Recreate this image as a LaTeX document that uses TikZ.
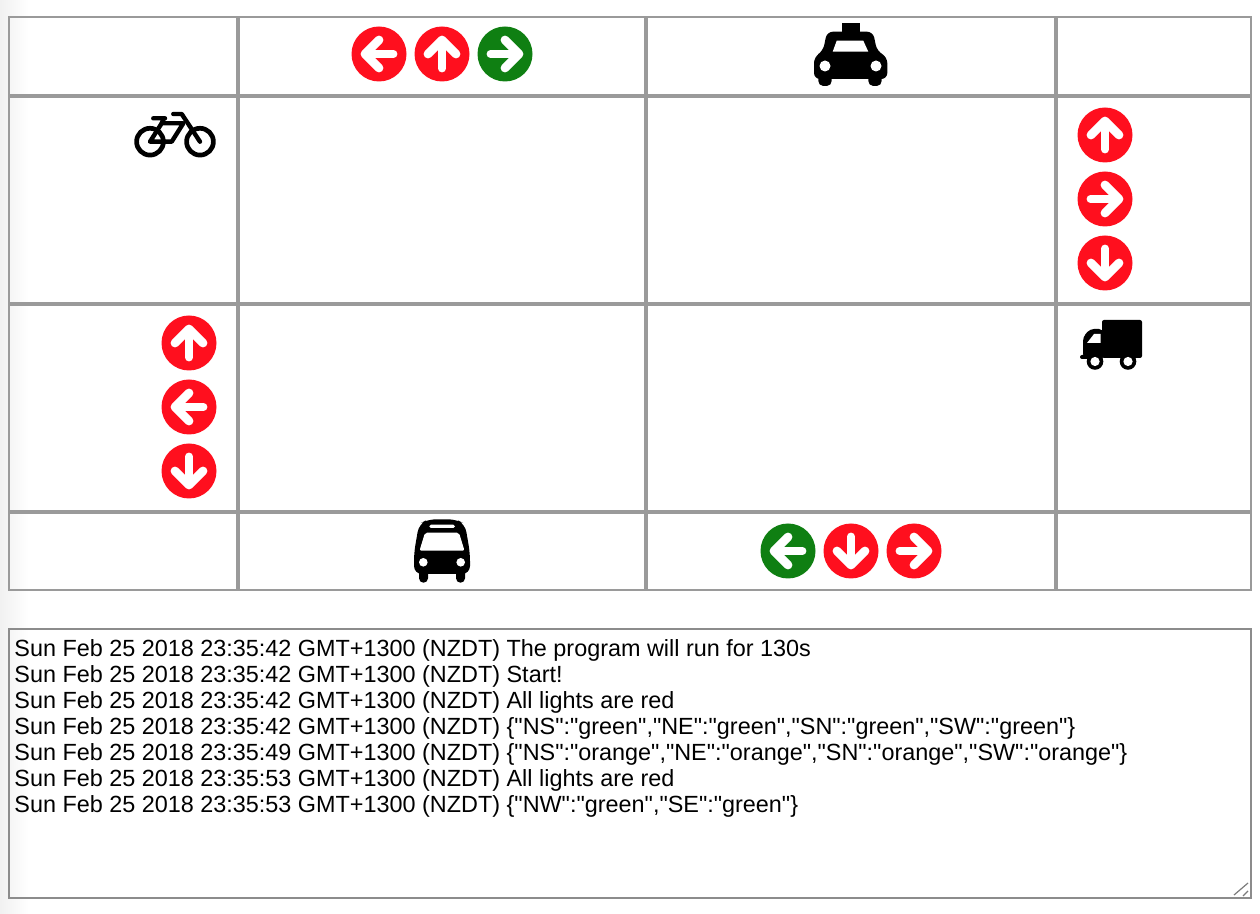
\documentclass[tikz,border=0pt]{standalone}
\usepackage{fontspec}
\newfontfamily\logfont{Liberation Sans}
\definecolor{lightred}{HTML}{FF0F1E}
\definecolor{lightgreen}{HTML}{0F7F12}
\definecolor{gridgrey}{HTML}{9A9A9A}
\definecolor{boxgrey}{HTML}{8C8C8C}
\definecolor{pagegrey}{HTML}{F1F1F1}
\tikzset{
  x=0.5pt,y=-0.5pt,
  gridin/.style={draw=gridgrey,line width=1.75pt},
  gridout/.style={draw=gridgrey,line width=1.3pt},
  logbox/.style={draw=boxgrey,line width=1pt},
  logline/.style={anchor=base west,inner sep=0pt,font=\logfont\fontsize{11.7}{13}\selectfont},
  roundline/.style={line cap=round,line join=round},
  arrowicon/.pic={
    \fill[pic actions] (0,0) circle[radius=27.5];
    \draw[white,line width=3.9pt,roundline] (0,14.5)--(0,-12);
    \draw[white,line width=4.4pt,roundline] (-14,0)--(0,-14)--(14,0);
  },
  taxiicon/.pic={
    \fill (-9.3,-30.7) rectangle (9,-20);
    \fill[rounded corners=3pt] (-37,25) -- (-37,3) -- (-28,-3) -- (-24,-22.3) -- (22,-22.3) -- (26,-3) -- (36.3,3) -- (36.3,25) -- cycle;
    \fill[rounded corners=2.5pt] (-32.7,15) rectangle (-19.3,32);
    \fill[rounded corners=2.5pt] (17.3,15) rectangle (30.7,32);
    \fill[white] (-14.3,-13.3) -- (12.3,-13.3) -- (17.3,-2.3) -- (-18.3,-2.3) -- cycle;
    \fill[white] (-26,12) circle[radius=5.5] (25,12) circle[radius=5.5];
  },
  bikeicon/.pic={
    \draw[line width=2.35pt,roundline] (-25,0.7) circle[radius=13.4] (25,0.7) circle[radius=13.4];
    \draw[line width=2.2pt,roundline] (-25,0.7) -- (-13.3,-17.7) -- (8.3,-17.7) -- (-3.3,0.7) -- cycle;
    \draw[line width=2.2pt,roundline] (-21.7,-22.7) -- (-10,-22.7) (-11,-22.7) -- (-13.3,-17.7);
    \draw[line width=2.2pt,roundline] (-1.7,-27) -- (6.7,-27) -- (25,0.7);
  },
  truckicon/.pic={
    \fill[rounded corners=1pt] (-8,-34) rectangle (32,4);
    \fill[rounded corners=2pt] (-7,-25) -- (-20,-25) -- (-27,-17) -- (-27,4) -- (-7,4) -- cycle;
    \fill[rounded corners=1pt] (-30,1) rectangle (-7,5);
    \fill[white] (-23,-11) -- (-16,-20) -- (-9.5,-20) -- (-9.5,-11) -- cycle;
    \fill (-15,7.5) circle[radius=8.3] (18,7.5) circle[radius=8.3];
    \fill[white] (-15,7.5) circle[radius=4.6] (18,7.5) circle[radius=4.6];
  },
  busicon/.pic={
    \fill[rounded corners=4pt] (-28,21) -- (-28,0) -- (-23,-29) -- (-14,-33.7) -- (14,-33.7) -- (23,-29) -- (28,0) -- (28,21) -- cycle;
    \fill[rounded corners=2.2pt] (-23,10) rectangle (-14,29.7);
    \fill[rounded corners=2.2pt] (14,10) rectangle (23,29.7);
    \fill[white,rounded corners=0.8pt] (-12.7,-28.3) rectangle (13,-25);
    \fill[white,rounded corners=1pt] (-17,-20.3) -- (17,-20.3) -- (22.5,-2.3) -- (-22.5,-2.3) -- cycle;
    \fill[white] (-18.7,9.3) circle[radius=4.3] (18.7,9.3) circle[radius=4.3];
  },
}
\begin{document}
\begin{tikzpicture}
\useasboundingbox (0,0) rectangle (1260,914);
\shade[left color=pagegrey,right color=white] (0,0) rectangle (28,914);
% grid
\draw[gridout] (9,17) rectangle (1251,590);
\draw[gridin] (9,96) -- (1251,96) (9,304) -- (1251,304) (9,512) -- (1251,512);
\draw[gridin] (238,17) -- (238,590) (646,17) -- (646,590) (1056,17) -- (1056,590);
% lights
\pic[rotate=90,fill=lightred] at (379,54) {arrowicon};
\pic[fill=lightred] at (442,54) {arrowicon};
\pic[rotate=-90,fill=lightgreen] at (505,54) {arrowicon};
\pic[fill=lightred] at (1105,135) {arrowicon};
\pic[rotate=-90,fill=lightred] at (1105,199) {arrowicon};
\pic[rotate=180,fill=lightred] at (1105,263) {arrowicon};
\pic[fill=lightred] at (189,343) {arrowicon};
\pic[rotate=90,fill=lightred] at (189,407) {arrowicon};
\pic[rotate=180,fill=lightred] at (189,471) {arrowicon};
\pic[rotate=90,fill=lightgreen] at (788,551) {arrowicon};
\pic[rotate=180,fill=lightred] at (851,551) {arrowicon};
\pic[rotate=-90,fill=lightred] at (914,551) {arrowicon};
% vehicles
\pic at (851,54) {taxiicon};
\pic at (175,141) {bikeicon};
\pic at (1110,354) {truckicon};
\pic at (442,553) {busicon};
% log
\draw[logbox] (9,629) rectangle (1251,898);
\node[logline] (l1) at (14,656.5) {Sun Feb 25 2018 23:35:42 GMT+1300 (NZDT) The program will run for 130s};
\node[logline] (l2) at (14,682.5) {Sun Feb 25 2018 23:35:42 GMT+1300 (NZDT) Start!};
\node[logline] (l3) at (14,708.5) {Sun Feb 25 2018 23:35:42 GMT+1300 (NZDT) All lights are red};
\node[logline] (l4) at (14,734.5) {Sun Feb 25 2018 23:35:42 GMT+1300 (NZDT) \{"NS":"green","NE":"green","SN":"green","SW":"green"\}};
\node[logline] (l5) at (14,760.5) {Sun Feb 25 2018 23:35:49 GMT+1300 (NZDT) \{"NS":"orange","NE":"orange","SN":"orange","SW":"orange"\}};
\node[logline] (l6) at (14,786.5) {Sun Feb 25 2018 23:35:53 GMT+1300 (NZDT) All lights are red};
\node[logline] (l7) at (14,812.5) {Sun Feb 25 2018 23:35:53 GMT+1300 (NZDT) \{"NW":"green","SE":"green"\}};
% resize handle
\draw[gridgrey!80!black,line width=0.6pt] (1234,895) -- (1248,883) (1243,896) -- (1248,891);
\end{tikzpicture}
\end{document}
